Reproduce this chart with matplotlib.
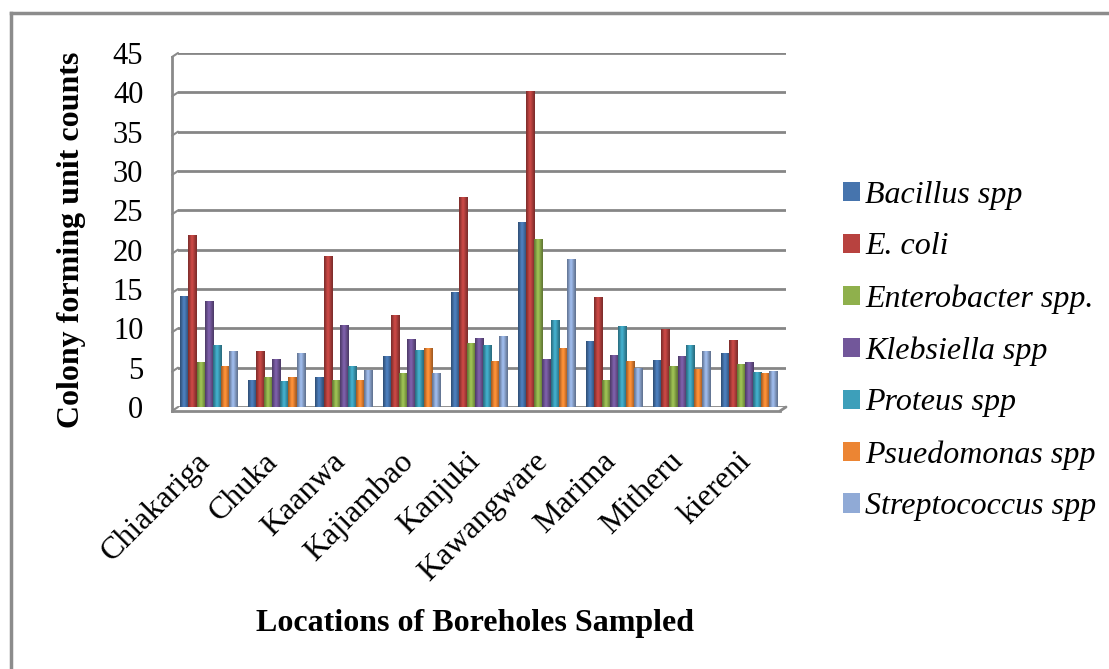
import numpy as np
import matplotlib
matplotlib.use("Agg")
import matplotlib.pyplot as plt
from matplotlib.transforms import offset_copy
from matplotlib.colors import to_rgb

locations = ["Chiakariga", "Chuka", "Kaanwa", "Kajiambao", "Kanjuki",
             "Kawangware", "Marima", "Mitheru", "kiereni"]

bacillus = [14.1, 3.4, 3.8, 6.4, 14.5, 23.4, 8.3, 5.9, 6.8]
e_coli = [21.8, 7.1, 19.1, 11.6, 26.6, 40.1, 13.9, 9.9, 8.5]
enterobacter = [5.7, 3.7, 3.4, 4.3, 8.1, 21.3, 3.4, 5.1, 5.4]
klebsiella = [13.4, 6.1, 10.4, 8.6, 8.7, 6.1, 6.5, 6.4, 5.7]
proteus = [7.8, 3.2, 5.2, 7.2, 7.8, 11.0, 10.2, 7.8, 4.4]
psuedomonas = [5.1, 3.7, 3.4, 7.4, 5.8, 7.4, 5.8, 4.8, 4.2]
streptococcus = [7.0, 6.8, 4.7, 4.3, 9.0, 18.7, 4.9, 7.1, 4.5]

series_names = ["Bacillus spp", "E. coli", "Enterobacter spp.", "Klebsiella spp",
                "Proteus spp", "Psuedomonas spp", "Streptococcus spp"]
series = [bacillus, e_coli, enterobacter, klebsiella, proteus, psuedomonas, streptococcus]
colors = ["#4674ad", "#b8423f", "#8fb04c", "#72579a", "#3d9fba", "#ec8533", "#90aad6"]

plt.rcParams["font.family"] = ["Liberation Serif", "DejaVu Serif"]

fig = plt.figure(figsize=(11.09, 6.69), dpi=100)
ax = fig.add_axes([178 / 1109, (669 - 407) / 669, (786 - 178) / 1109, (407 - 53) / 669])

x = np.arange(len(locations))
width = 0.12
grad = np.array([0.72, 0.85, 1.0, 1.12, 1.05, 0.92, 0.8, 0.7])

for i, (vals, name, col) in enumerate(zip(series, series_names, colors)):
    offs = (i - 3) * width - 0.045
    bars = ax.bar(x + offs, vals, width, color=col, edgecolor="none",
                  label=name, zorder=3)
    base = np.array(to_rgb(col))
    img = np.clip(base[None, :] * grad[:, None], 0, 1)[None, :, :]
    for b in bars:
        x0 = b.get_x()
        ax.imshow(img, extent=(x0, x0 + width, 0, b.get_height()),
                  aspect="auto", zorder=4, interpolation="bilinear")

ax.set_xlim(-0.5, len(locations) - 0.5)
ax.set_ylim(0, 45)
ax.set_yticks(np.arange(0, 46, 5))
ax.set_xticks([])
ax.tick_params(axis="y", length=0, pad=25, labelsize=22)
for s in ax.spines.values():
    s.set_visible(False)
ax.grid(axis="y", color="#868686", lw=2, zorder=0)

# category names, slanted under each cluster
for xi, name in zip(x, locations):
    ax.annotate(name, xy=(xi, 0), xytext=(-16, -40), textcoords="offset pixels",
                rotation=45, ha="right", va="top", rotation_mode="anchor",
                fontsize=23, annotation_clip=False)

# back-wall edge, floor and the little perspective slants
gcol = "#8a8a8a"
shifted = offset_copy(ax.transData, fig, x=-6, y=-4, units="dots")
for yv in np.arange(0, 46, 5):
    ax.annotate("", xy=(-0.5, yv), xytext=(-6, -4), textcoords="offset pixels",
                arrowprops=dict(arrowstyle="-", color=gcol, lw=1.5, shrinkA=0, shrinkB=0))
ax.plot([-0.5, -0.5], [0, 45], color=gcol, lw=2, clip_on=False, transform=shifted, zorder=5)
ax.plot([-0.5, len(locations) - 0.5], [0, 0], color=gcol, lw=2, clip_on=False,
        transform=shifted, zorder=5)
ax.annotate("", xy=(len(locations) - 0.5, 0), xytext=(-6, -4), textcoords="offset pixels",
            arrowprops=dict(arrowstyle="-", color=gcol, lw=2, shrinkA=0, shrinkB=0))

fig.text(72 / 1109, 1 - 240 / 669, "Colony forming unit counts", fontsize=23,
         fontweight="bold", rotation=90, ha="center", va="center")
fig.text(475 / 1109, 1 - 623 / 669, "Locations of Boreholes Sampled", fontsize=23,
         fontweight="bold", ha="center", va="center")

ax.legend(loc="upper left", bbox_to_anchor=(814 / 1109, 1 - 152 / 669),
          bbox_transform=fig.transFigure, frameon=False, handlelength=0.55,
          handleheight=0.55, handletextpad=0.15, labelspacing=0.71,
          prop={"family": "Liberation Serif", "style": "italic", "size": 23})

# outer frame
fig.add_artist(plt.Line2D([11 / 1109, 11 / 1109], [0, 1 - 13 / 669], color="#8c8c8c", lw=2.5))
fig.add_artist(plt.Line2D([11 / 1109, 1], [1 - 13 / 669, 1 - 13 / 669], color="#8c8c8c", lw=2.5))

fig.savefig("out.png", dpi=100)
